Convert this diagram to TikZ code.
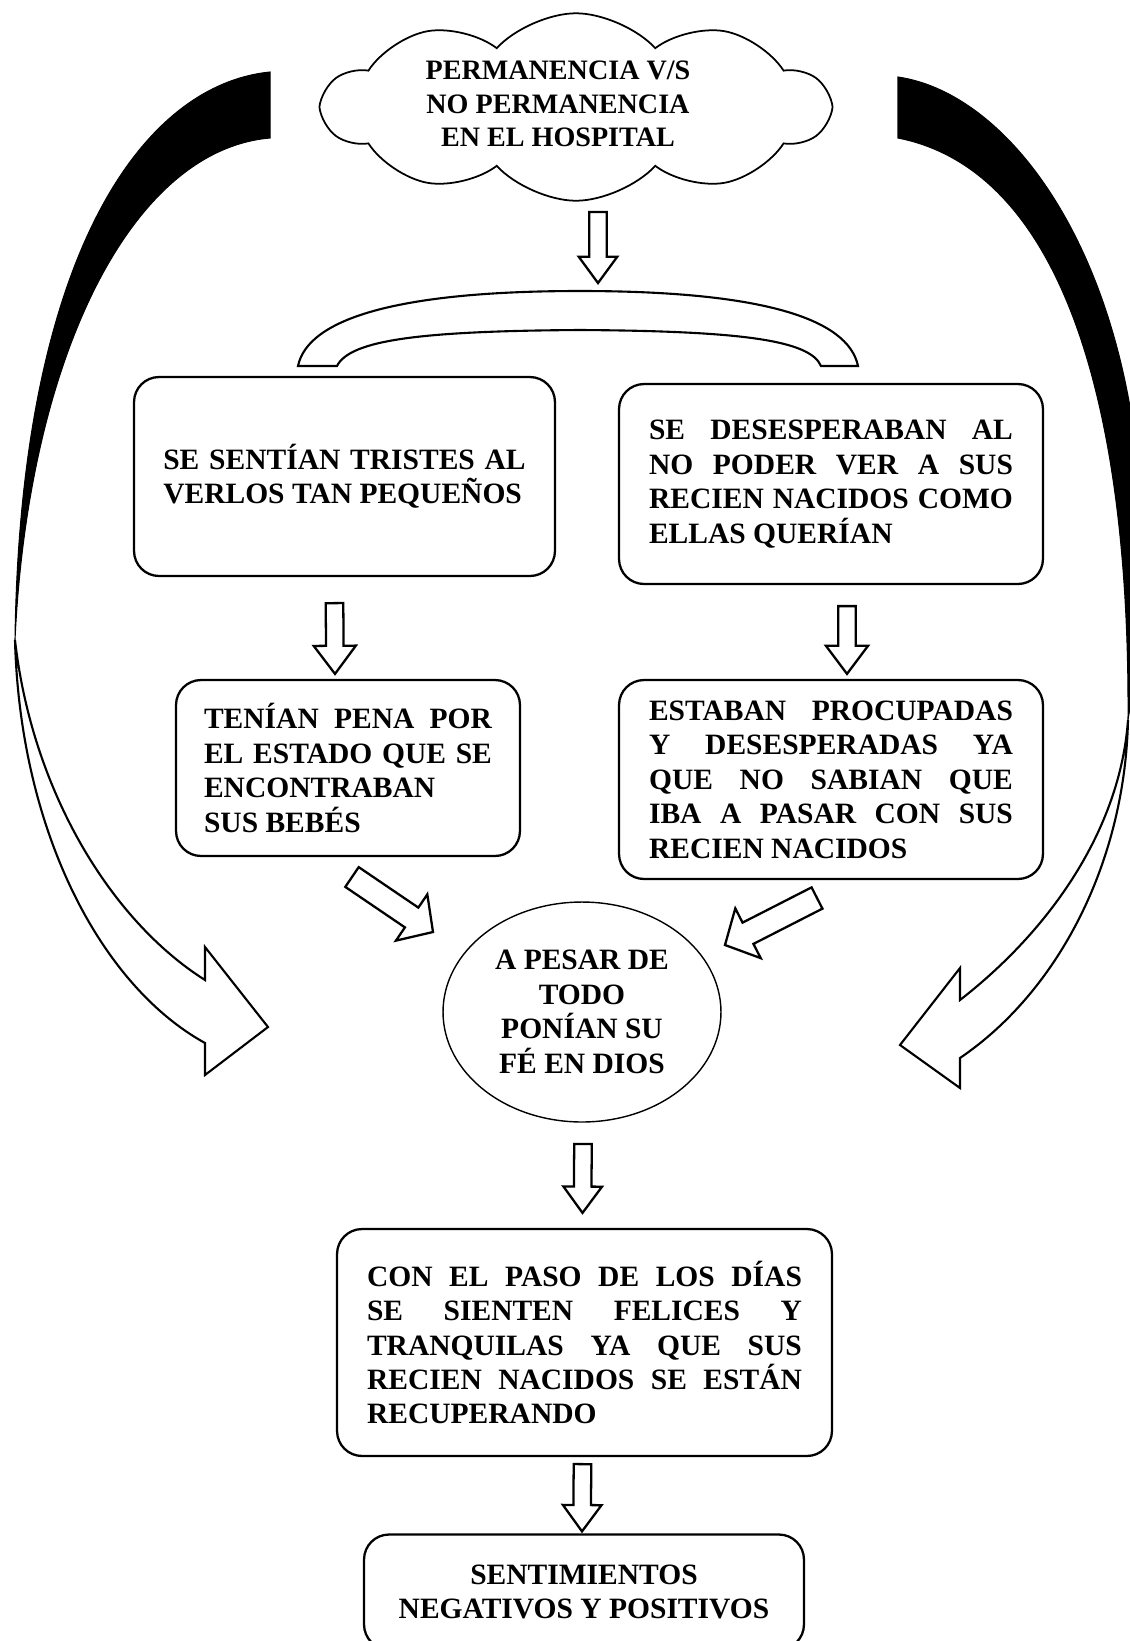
\documentclass[tikz,border=0pt]{standalone}
\usepackage{fontspec}
\setmainfont{Liberation Serif}
\usetikzlibrary{shapes.geometric, shapes.symbols, calc}

% flecha hueca entre dos puntos: inicio, punta, medio ancho, ancho cabeza, largo cabeza
\newcommand{\hollowarrow}[5]{%
  \coordinate (nk) at ($(#2)!#5!(#1)$);
  \draw[flecha] ($(#1)!#3!90:(#2)$) -- ($(nk)!#3!90:(#2)$) -- ($(nk)!#4!90:(#2)$) -- (#2)
    -- ($(nk)!#4!-90:(#2)$) -- ($(nk)!#3!-90:(#2)$) -- ($(#1)!#3!-90:(#2)$) -- cycle;}

\begin{document}
\begin{tikzpicture}[
  x=0.02cm, y=-0.02cm,
  font=\bfseries\fontsize{16.8}{19.6}\selectfont,
  caja/.style={
    draw, line width=1.3pt, rounded corners=0.5cm,
    fill=white, align=justify
  },
  nube/.style={cloud, cloud puffs=10, cloud puff arc=95, aspect=2.5,
    draw, line width=1pt, minimum width=10.1cm, minimum height=3.75cm},
  fe/.style={ellipse, draw, line width=0.8pt, align=center,
    minimum width=5.56cm, minimum height=4.4cm},
  flecha/.style={draw, line width=1.3pt, fill=white, line join=miter},
  cinta/.style={draw, line width=1.2pt, fill=white},
  sombra/.style={fill=black, draw=black, line width=0.6pt}
]
\clip (0,0) rectangle (1130,1641);
\fill[white] (0,0) rectangle (1130,1641);

% flechas curvas laterales
\path[sombra] (270,72) .. controls (140,85) and (20,260) .. (15,640)
   .. controls (28,360) and (130,150) .. (270,138) -- cycle;
\path[cinta] (15,640) .. controls (20,830) and (100,985) .. (205,1043)
   -- (205,1075) -- (268,1027) -- (205,947) -- (205,980)
   .. controls (110,920) and (32,790) .. (15,640) -- cycle;
\path[sombra] (898,77) .. controls (1020,95) and (1145,280) .. (1142,560)
   .. controls (1140,630) and (1133,690) .. (1128,720)
   .. controls (1130,400) and (1060,170) .. (898,138) -- cycle;
\path[cinta] (1128,720) .. controls (1125,860) and (1060,990) .. (960,1058)
   -- (960,1088) -- (900,1045) -- (960,968) -- (960,1000)
   .. controls (1050,930) and (1120,830) .. (1128,720) -- cycle;

% arco que reparte
\path[cinta] (298,366) -- (337,366) .. controls (350,340) and (420,331) .. (580,330)
   .. controls (740,331) and (810,340) .. (821,366) -- (858,366)
   .. controls (848,318) and (760,291) .. (580,291)
   .. controls (400,291) and (308,318) .. (298,366) -- cycle;

\node[nube] (nube) at (576,107) {};
\node[align=center, font=\bfseries\fontsize{16}{19.2}\selectfont] (titulo) at (558,104)
 {PERMANENCIA V/S\\NO PERMANENCIA\\EN EL HOSPITAL};

\node[caja, minimum width=8.42cm, minimum height=3.98cm, text width=7.25cm] (tristes) at (344.5,476.5)
 {SE SENTÍAN TRISTES AL\linebreak VERLOS TAN PEQUEÑOS};
\node[caja, minimum width=8.48cm, minimum height=4cm, text width=7.28cm] (desesp) at (831,484)
 {SE DESESPERABAN AL\linebreak NO PODER VER A SUS\linebreak RECIEN NACIDOS COMO\linebreak ELLAS QUERÍAN};
\node[caja, minimum width=6.88cm, minimum height=3.52cm, text width=5.76cm] (pena) at (348,768)
 {TENÍAN PENA POR\linebreak EL ESTADO QUE SE\linebreak ENCONTRABAN\newline SUS BEBÉS};
\node[caja, minimum width=8.48cm, minimum height=3.98cm, text width=7.28cm] (preocup) at (831,779.5)
 {ESTABAN PROCUPADAS\linebreak Y DESESPERADAS YA\linebreak QUE NO SABIAN QUE\linebreak IBA A PASAR CON SUS\linebreak RECIEN NACIDOS};
\node[fe] (dios) at (582,1012) {A PESAR DE\\TODO\\PONÍAN SU\\FÉ EN DIOS};
\node[caja, minimum width=9.9cm, minimum height=4.54cm, text width=8.7cm] (felices) at (584.5,1342.5)
 {CON EL PASO DE LOS DÍAS\linebreak SE SIENTEN FELICES Y\linebreak TRANQUILAS YA QUE SUS\linebreak RECIEN NACIDOS SE ESTÁN\linebreak RECUPERANDO};
\node[caja, align=center, minimum width=8.8cm, minimum height=2.3cm] (sentim) at (584,1592)
 {SENTIMIENTOS\\NEGATIVOS Y POSITIVOS};

% flechas huecas
\coordinate (c1) at (598,212);  \coordinate (c2) at (598,283);
\coordinate (i1) at ($(tristes.south)+(-10,26)$); \coordinate (i2) at ($(pena.north)+(-13,-5)$);
\coordinate (d1) at ($(desesp.south)+(16,21)$);   \coordinate (d2) at ($(preocup.north)+(16,-5)$);
\coordinate (p1) at (352,877);  \coordinate (p2) at (433,932);
\coordinate (q1) at (817,898);  \coordinate (q2) at (725,945);
\coordinate (f1) at (583,1144); \coordinate (f2) at ($(felices.north)+(-2,-15)$);
\coordinate (s1) at ($(felices.south)+(-2,7)$); \coordinate (s2) at ($(sentim.north)+(-2,-2)$);

\hollowarrow{c1}{c2}{5pt}{11pt}{15pt}
\hollowarrow{i1}{i2}{5pt}{12pt}{16pt}
\hollowarrow{d1}{d2}{5pt}{12pt}{16pt}
\hollowarrow{p1}{p2}{6.8pt}{15.9pt}{14.7pt}
\hollowarrow{q1}{q2}{6.8pt}{15.9pt}{14.7pt}
\hollowarrow{f1}{f2}{5pt}{11pt}{15pt}
\hollowarrow{s1}{s2}{5pt}{11pt}{15pt}
\end{tikzpicture}
\end{document}
